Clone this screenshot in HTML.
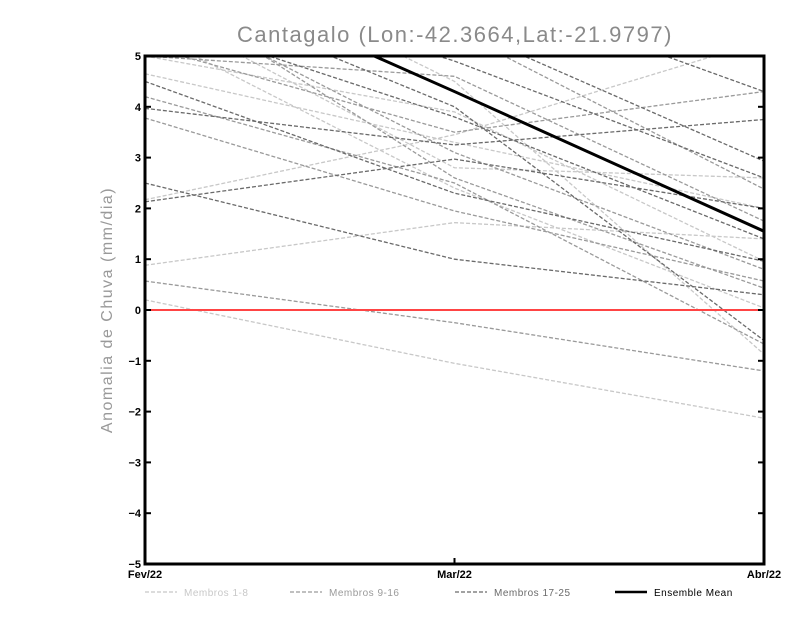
<!DOCTYPE html>
<html><head><meta charset="utf-8"><style>
html,body{margin:0;padding:0;background:#fff;width:800px;height:618px;overflow:hidden}
svg text{font-family:"Liberation Sans",sans-serif}
</style></head><body>
<svg id="chart" width="800" height="618" xmlns="http://www.w3.org/2000/svg">
<defs><clipPath id="plotclip"><rect x="145" y="56" width="619" height="508"/></clipPath></defs>
<text x="455" y="42" text-anchor="middle" font-size="22" fill="#8a8a8a" letter-spacing="1.5">Cantagalo (Lon:-42.3664,Lat:-21.9797)</text>
<text transform="translate(112,310) rotate(-90)" text-anchor="middle" font-size="16" fill="#999" letter-spacing="1.5">Anomalia de Chuva (mm/dia)</text>
<g id="series" clip-path="url(#plotclip)"></g>
<g id="axes"></g>
<g id="legend"></g>
</svg>
<script>
const categories=["Fev/22","Mar/22","Abr/22"];
const yTicks=[-5,-4,-3,-2,-1,0,1,2,3,4,5];
const light=[[0.2,-1.05,-2.13],[0.88,1.72,1.4],[2.17,3.45,5.3],[4.65,3.3,2.0],[5.0,3.9,0.96],[6.0,2.8,2.6],[7.5,4.5,-0.87],[5.5,2.4,0.04]];
const medium=[[0.57,-0.25,-1.2],[3.78,1.95,0.57],[5.2,3.5,4.3],[6.5,2.6,0.43],[5.0,4.6,1.75],[7.0,5.5,2.38],[4.2,2.5,-0.67],[6.2,3.1,0.8]];
const dark=[[3.97,3.25,3.75],[2.13,2.97,2.0],[2.5,1.0,0.3],[5.8,3.8,1.4],[6.5,4.0,-0.6],[7.5,5.6,2.93],[4.5,2.3,0.96],[6.8,4.9,2.6],[8,6.5,4.3]];
const ensembleMean=[7.0,4.3,1.55];
const NS="http://www.w3.org/2000/svg";
const X0=145,X1=764,Y0=564,Y1=56;
function xs(i){return X0+(X1-X0)*i/(categories.length-1);}
function ys(v){return Y0-(v+5)/10*(Y0-Y1);}
function mk(t,a,p){const e=document.createElementNS(NS,t);for(const k in a)e.setAttribute(k,a[k]);p.appendChild(e);return e;}
const sg=document.getElementById('series');
function drawGroup(arr,color,name){arr.forEach((s,j)=>{const pl=mk('polyline',{points:s.map((v,i)=>xs(i)+','+ys(v)).join(' '),fill:'none',stroke:color,'stroke-width':1.3,'stroke-dasharray':'4,2'},sg);

});}
drawGroup(light,'#c8c8c8','member-light');
drawGroup(medium,'#9a9a9a','member-medium');
drawGroup(dark,'#6a6a6a','member-dark');
const zl=mk('line',{x1:X0,x2:X1,y1:ys(0),y2:ys(0),stroke:'#ff4444','stroke-width':2},sg);


const ml=mk('polyline',{points:ensembleMean.map((v,i)=>xs(i)+','+ys(v)).join(' '),fill:'none',stroke:'#000','stroke-width':3},sg);


const ax=document.getElementById('axes');
const fr=mk('rect',{x:X0,y:Y1,width:X1-X0,height:Y0-Y1,fill:'none',stroke:'#000','stroke-width':3},ax);


yTicks.forEach(v=>{mk('line',{x1:X0,x2:X0+6,y1:ys(v),y2:ys(v),stroke:'#000','stroke-width':2},ax);mk('line',{x1:X1-6,x2:X1,y1:ys(v),y2:ys(v),stroke:'#000','stroke-width':2},ax);
const t=mk('text',{x:X0-4,y:ys(v)+4,'text-anchor':'end','font-size':11,'font-weight':'bold'},ax);t.textContent=String(v).replace('-','−');

});
categories.forEach((c,i)=>{mk('line',{x1:xs(i),x2:xs(i),y1:Y0,y2:Y0-6,stroke:'#000','stroke-width':2},ax);
const t=mk('text',{x:xs(i),y:Y0+14,'text-anchor':'middle','font-size':11,'font-weight':'bold'},ax);t.textContent=c;

});
const lg=document.getElementById('legend');
const items=[['Membros 1-8','#c8c8c8',1.3,'4,2',145],['Membros 9-16','#9a9a9a',1.3,'4,2',290],['Membros 17-25','#6a6a6a',1.3,'4,2',455],['Ensemble Mean','#000',2.5,'',615]];
items.forEach(it=>{const g=mk('g',{},lg);


const a={x1:it[4],x2:it[4]+32,y1:592,y2:592,stroke:it[1],'stroke-width':it[2]};if(it[3])a['stroke-dasharray']=it[3];mk('line',a,g);
const t=mk('text',{x:it[4]+39,y:596,'font-size':10,fill:it[1],'letter-spacing':'0.5'},g);t.textContent=it[0];});
</script>
</body></html>
